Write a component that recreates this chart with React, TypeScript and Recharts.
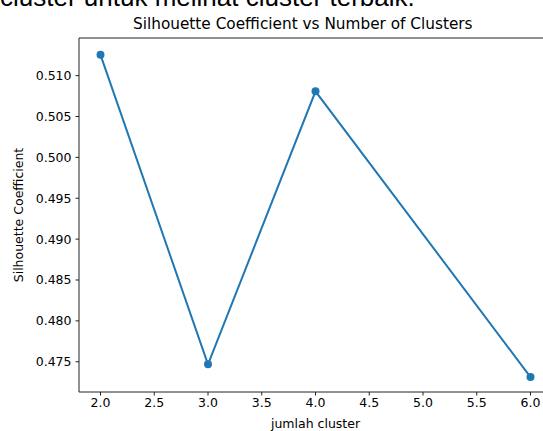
import React from "react";
import { Line, LineChart, ReferenceLine, XAxis, YAxis } from "recharts";

const clusters = [2, 3, 4, 6];
const silhouette = [0.51254, 0.47468, 0.50808, 0.47313];
const xTicks = [2, 2.5, 3, 3.5, 4, 4.5, 5, 5.5, 6];
const yTicks = [0.475, 0.48, 0.485, 0.49, 0.495, 0.5, 0.505, 0.51];
const X_DOMAIN = [1.8, 6.2];
const Y_DOMAIN = [0.4713, 0.5146];

const data = clusters.map((k, i) => ({ k, score: silhouette[i] }));

const FONT = "DejaVu Sans, sans-serif";
const TICK = { fill: "#000", fontSize: 12.5, fontFamily: FONT };
const EDGE = "#222";

function YLabel({ viewBox }: any) {
  const cy = viewBox.y + viewBox.height / 2;
  return (
    <text
      x={18}
      y={cy}
      transform={`rotate(-90 18 ${cy})`}
      textAnchor="middle"
      dominantBaseline="central"
      fontSize={12.5}
      fontFamily={FONT}
      fill="#000"
    >
      Silhouette Coefficient
    </text>
  );
}

function XLabel({ viewBox }: any) {
  const cx = viewBox.x + viewBox.width / 2;
  return (
    <text
      x={cx}
      y={viewBox.y + 36}
      textAnchor="middle"
      fontSize={12.5}
      fontFamily={FONT}
      fill="#000"
    >
      jumlah cluster
    </text>
  );
}

export default function App() {
  return (
    <div
      style={{
        position: "absolute",
        left: 0,
        top: 0,
        width: 543,
        height: 431,
        overflow: "hidden",
        background: "#fff",
      }}
    >
      <div
        style={{
          position: "absolute",
          left: 0,
          top: -16,
          fontFamily: "Liberation Sans, Arial, sans-serif",
          fontSize: 26,
          lineHeight: "26px",
          color: "#000",
          whiteSpace: "nowrap",
        }}
      >
        cluster untuk melihat cluster terbaik.
      </div>
      <div
        style={{
          position: "absolute",
          left: 133,
          top: 15,
          fontFamily: FONT,
          fontSize: 15.3,
          color: "#000",
          whiteSpace: "nowrap",
        }}
      >
        Silhouette Coefficient vs Number of Clusters
      </div>
      <div style={{ position: "absolute", left: 0, top: 0 }}>
        <LineChart
          width={560}
          height={431}
          data={data}
          margin={{ top: 38, right: 8, bottom: 0, left: 0 }}
        >
          <XAxis
            dataKey="k"
            type="number"
            domain={X_DOMAIN}
            ticks={xTicks}
            tickFormatter={(v: number) => v.toFixed(1)}
            allowDataOverflow
            height={39}
            tick={TICK}
            tickSize={3.5}
            tickMargin={3}
            stroke={EDGE}
            label={<XLabel />}
          />
          <YAxis
            type="number"
            domain={Y_DOMAIN}
            ticks={yTicks}
            tickFormatter={(v: number) => v.toFixed(3)}
            allowDataOverflow
            width={79}
            tick={TICK}
            tickSize={3.5}
            tickMargin={4}
            stroke={EDGE}
            label={<YLabel />}
          />
          <ReferenceLine y={Y_DOMAIN[1]} stroke={EDGE} strokeWidth={1} />
          <Line
            dataKey="score"
            type="linear"
            stroke="#1f77b4"
            strokeWidth={2}
            dot={{ r: 4, fill: "#1f77b4", stroke: "#1f77b4", strokeWidth: 0 }}
            isAnimationActive={false}
          />
        </LineChart>
      </div>
    </div>
  );
}
